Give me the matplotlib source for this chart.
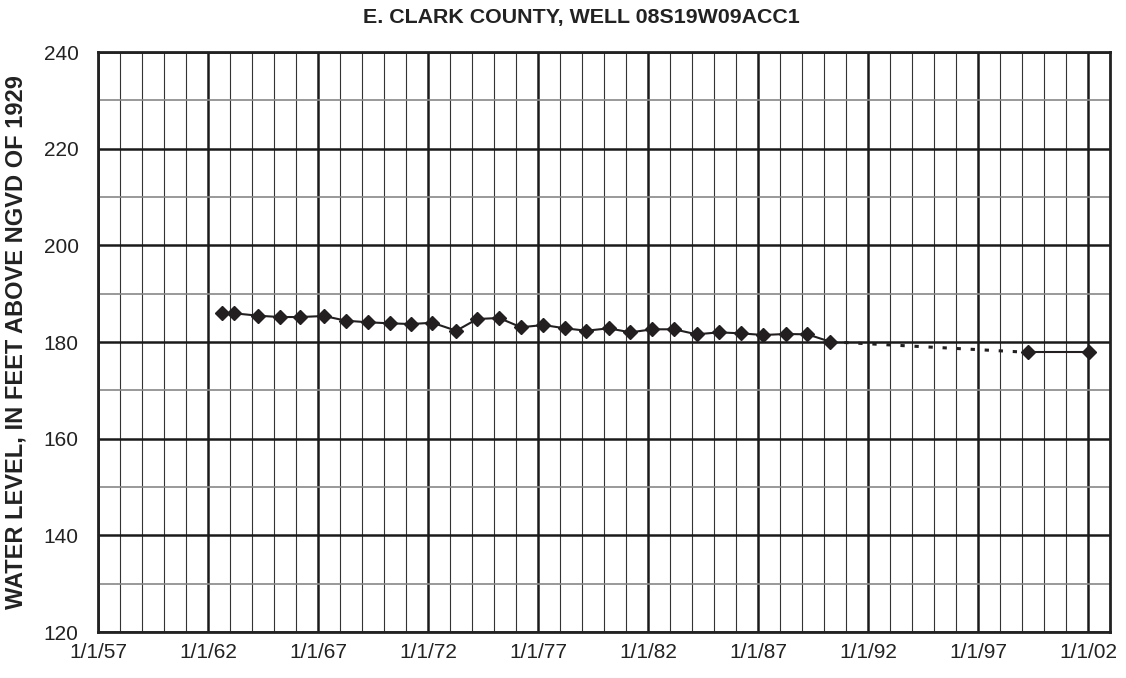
import datetime as dt
import matplotlib
matplotlib.use("Agg")
import matplotlib.pyplot as plt
import matplotlib.dates as mdates
import matplotlib.ticker as mticker

plt.rcParams['font.family'] = ['Liberation Sans', 'DejaVu Sans']

# measurement dates and water levels (feet above NGVD 1929)
dates = ['1962-08-25', '1963-03-15', '1964-04-15', '1965-04-08', '1966-03-08',
         '1967-04-15', '1968-04-08', '1969-04-15', '1970-04-05', '1971-03-25',
         '1972-03-15', '1973-04-15', '1974-03-28', '1975-03-28', '1976-03-25',
         '1977-04-01', '1978-03-28', '1979-03-15', '1980-03-20', '1981-03-15',
         '1982-03-15', '1983-03-12', '1984-03-18', '1985-03-20', '1986-03-18',
         '1987-03-28', '1988-04-05', '1989-04-01', '1990-04-15', '1999-04-08',
         '2002-01-15']
levels = [186.06, 185.94, 185.44, 185.17, 185.17, 185.38, 184.41, 184.08, 183.87,
          183.72, 183.99, 182.33, 184.76, 184.97, 183.05, 183.52, 182.83, 182.34,
          182.83, 182.0, 182.63, 182.63, 181.59, 182.0, 181.8, 181.45, 181.66,
          181.59, 180.06, 177.87, 177.87]
# index where the record has a gap (drawn dotted)
gap_after = 28

tick_years = list(range(1957, 2003, 5))
title = 'E. CLARK COUNTY, WELL 08S19W09ACC1'
ylabel = 'WATER LEVEL, IN FEET ABOVE NGVD OF 1929'

x = [dt.datetime.strptime(d, '%Y-%m-%d') for d in dates]

fig = plt.figure(figsize=(11.26, 6.78), dpi=100)
ax = fig.add_axes([0.087, 0.0678, 0.8988, 0.8555])

dark = '#231f20'
ax.plot(x[:gap_after + 1], levels[:gap_after + 1], color=dark, lw=1.5,
        marker='D', ms=7, zorder=5)
ax.plot(x[gap_after:gap_after + 2], levels[gap_after:gap_after + 2], color=dark,
        lw=2.2, linestyle=(0, (1.4, 3.2)), zorder=4)
ax.plot(x[gap_after + 1:], levels[gap_after + 1:], color=dark, lw=1.5,
        marker='D', ms=7, zorder=5)

ax.set_xlim(dt.datetime(1957, 1, 1), dt.datetime(2003, 1, 1))
ax.set_ylim(120, 240)

major = [dt.datetime(y, 1, 1) for y in tick_years]
ax.set_xticks(major)
ax.set_xticklabels(['1/1/{:02d}'.format(y % 100) for y in tick_years])
ax.xaxis.set_minor_locator(mdates.YearLocator(1))
ax.yaxis.set_major_locator(mticker.MultipleLocator(20))
ax.yaxis.set_minor_locator(mticker.MultipleLocator(10))

ax.grid(which='major', axis='x', color='#1a1a1a', lw=1.8)
ax.grid(which='minor', axis='x', color='#333333', lw=0.8)
ax.grid(which='major', axis='y', color='#1a1a1a', lw=1.8)
ax.grid(which='minor', axis='y', color='#888888', lw=1.2)
ax.set_axisbelow(True)

for s in ax.spines.values():
    s.set_linewidth(2)
    s.set_color('#222222')

ax.tick_params(which='both', length=0, labelsize=15, colors='#222222')
ax.tick_params(axis='x', pad=8)
ax.tick_params(axis='y', pad=14)

fig.text(581 / 1126, 1 - 18 / 678, title, fontsize=15.4, fontweight='bold',
         ha='center', va='center', color='#222222')
ax.set_ylabel(ylabel, fontsize=17, fontweight='bold', color='#222222')
ax.yaxis.set_label_coords(-0.070, 0.5)

fig.savefig('out.png', dpi=100)
